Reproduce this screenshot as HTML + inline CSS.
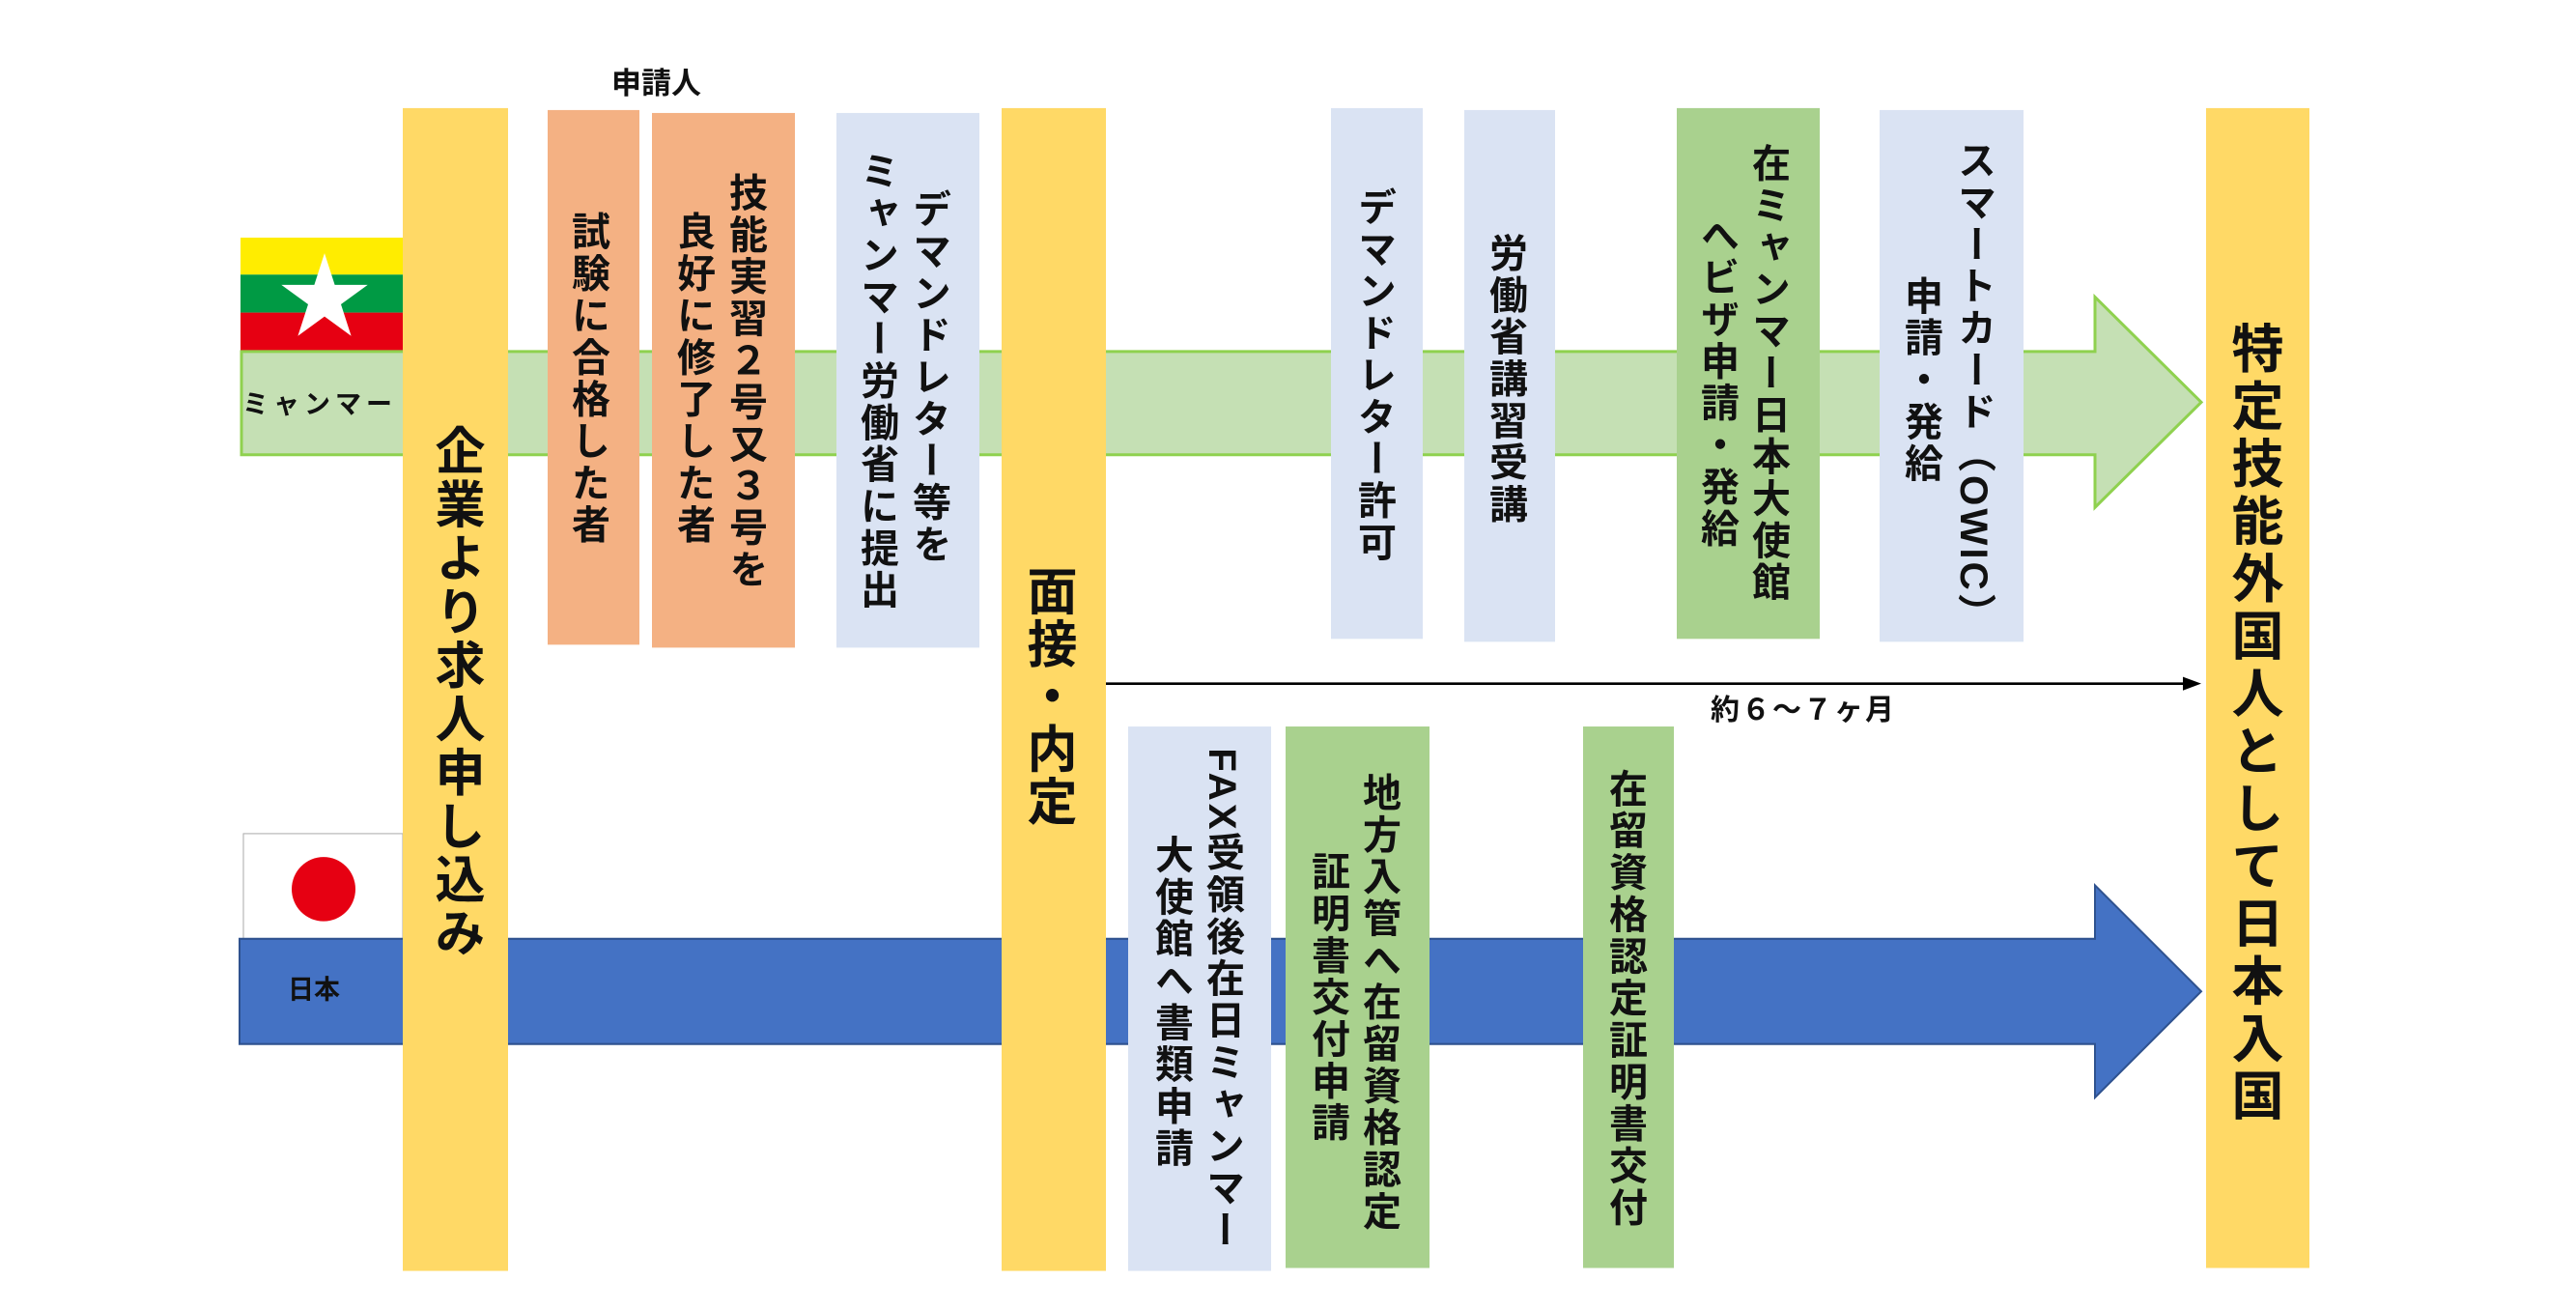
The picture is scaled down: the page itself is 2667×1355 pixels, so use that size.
<!DOCTYPE html>
<html><head><meta charset="utf-8"><style>
html,body{margin:0;padding:0;background:#fff;}
body{width:2667px;height:1344px;position:relative;overflow:hidden;font-family:"Liberation Sans","Noto Sans CJK JP",sans-serif;font-weight:bold;color:#111;}
#w{position:absolute;left:0;top:0;width:2667px;height:1344px;transform:scale(1,1.0081);transform-origin:0 0;}
.r{position:absolute;}
.v{position:absolute;writing-mode:vertical-rl;white-space:nowrap;font-size:40px;letter-spacing:3px;line-height:1;}
.t{position:absolute;white-space:nowrap;line-height:1;}
</style></head><body><div id="w">
<svg class="r" style="left:0;top:0" width="2667" height="1344">
  <rect x="249" y="244" width="168" height="38" fill="#ffed00"/>
  <rect x="249" y="282" width="168" height="39" fill="#009a44"/>
  <rect x="249" y="321" width="168" height="39" fill="#e60012"/>
  <polygon fill="#fff" points="336,260 346.6,292.5 380.7,292.5 353,312.5 363.6,345 336,325 308.4,345 319,312.5 291.3,292.5 325.4,292.5"/>
  <polygon fill="#c5e0b4" stroke="#8fd14f" stroke-width="3" points="250,361 2169,361 2169,305 2279,413 2169,521 2169,467 250,467"/>
  <rect x="252" y="856" width="165" height="112" fill="#fff" stroke="#aaa" stroke-width="1"/>
  <circle cx="335" cy="913" r="33" fill="#e60012"/>
  <polygon fill="#4472c4" stroke="#2f528f" stroke-width="2" points="248,964 2169,964 2169,909 2279,1018 2169,1127 2169,1072 248,1072"/>
  <line x1="1145" y1="702" x2="2262" y2="702" stroke="#000" stroke-width="2.5"/>
  <polygon points="2279,702 2260,695 2260,709" fill="#000"/>
</svg>
<div class="t" style="left:251px;top:402px;font-size:27px;letter-spacing:5px;">ミャンマー</div>
<div class="t" style="left:298px;top:1003px;font-size:27px;">日本</div>

<div class="r" style="left:417px;top:111px;width:109px;height:1194px;background:#ffd966"></div>
<div class="v" style="left:445px;top:436px;font-size:52px;letter-spacing:3px;">企業より求人申し込み</div>

<div class="t" style="left:633px;top:70px;font-size:31px;">申請人</div>
<div class="r" style="left:567px;top:113px;width:95px;height:549px;background:#f4b183"></div>
<div class="v" style="left:588px;top:217px;">試験に合格した者</div>
<div class="r" style="left:675px;top:116px;width:148px;height:549px;background:#f4b183"></div>
<div class="v" style="left:751px;top:177px;">技能実習２号又３号を</div>
<div class="v" style="left:697px;top:217px;">良好に修了した者</div>

<div class="r" style="left:866px;top:116px;width:148px;height:549px;background:#dae3f3"></div>
<div class="v" style="left:941px;top:194px;">デマンドレター等を</div>
<div class="v" style="left:887px;top:155px;">ミャンマー労働省に提出</div>

<div class="r" style="left:1037px;top:111px;width:108px;height:1194px;background:#ffd966"></div>
<div class="v" style="left:1058px;top:580px;font-size:52px;letter-spacing:2px;">面接・内定</div>

<div class="r" style="left:1378px;top:111px;width:95px;height:545px;background:#dae3f3"></div>
<div class="v" style="left:1402px;top:192px;">デマンドレター許可</div>
<div class="r" style="left:1516px;top:113px;width:94px;height:546px;background:#dae3f3"></div>
<div class="v" style="left:1538px;top:239px;">労働省講習受講</div>
<div class="r" style="left:1736px;top:111px;width:148px;height:545px;background:#a9d18e"></div>
<div class="v" style="left:1810px;top:147px;">在ミャンマー日本大使館</div>
<div class="v" style="left:1757px;top:221px;">へビザ申請・発給</div>
<div class="r" style="left:1946px;top:113px;width:149px;height:546px;background:#dae3f3"></div>
<div class="v" style="left:2023px;top:144px;">スマートカード（OWIC）</div>
<div class="v" style="left:1968px;top:283px;">申請・発給</div>

<div class="t" style="left:1771px;top:715px;font-size:30px;letter-spacing:2px;">約６～７ヶ月</div>

<div class="r" style="left:1168px;top:746px;width:148px;height:559px;background:#dae3f3"></div>
<div class="v" style="left:1245px;top:768px;">FAX受領後在日ミャンマー</div>
<div class="v" style="left:1192px;top:857px;">大使館へ書類申請</div>
<div class="r" style="left:1331px;top:746px;width:149px;height:556px;background:#a9d18e"></div>
<div class="v" style="left:1407px;top:793px;">地方入管へ在留資格認定</div>
<div class="v" style="left:1354px;top:874px;">証明書交付申請</div>
<div class="r" style="left:1639px;top:746px;width:94px;height:556px;background:#a9d18e"></div>
<div class="v" style="left:1662px;top:789px;">在留資格認定証明書交付</div>

<div class="r" style="left:2284px;top:111px;width:107px;height:1191px;background:#ffd966"></div>
<div class="v" style="left:2305px;top:330px;font-size:54px;letter-spacing:5px;">特定技能外国人として日本入国</div>
</div></body></html>
